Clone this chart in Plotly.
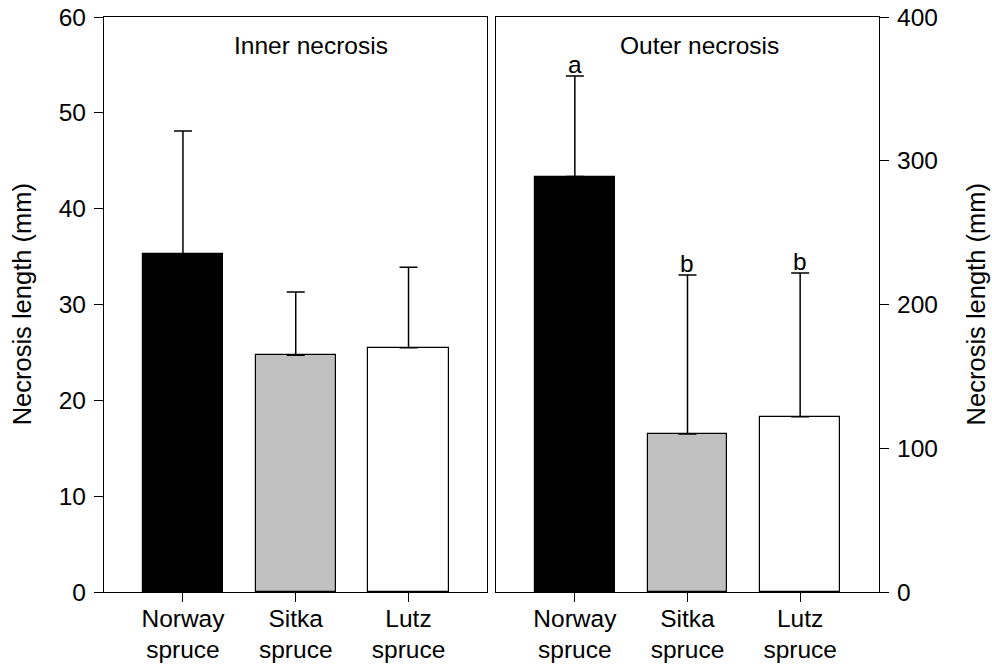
import plotly.graph_objects as go

# Data: mean necrosis length with upper standard deviation
species = ["Norway<br>spruce", "Sitka<br>spruce", "Lutz<br>spruce"]
inner_mean = [35.3, 24.7, 25.5]
inner_sd = [12.8, 6.6, 8.4]
outer_mean = [289.0, 110.0, 122.0]
outer_sd = [70.0, 110.5, 100.0]
outer_letters = ["a", "b", "b"]
bar_colors = ["#000000", "#c0c0c0", "#ffffff"]

FONT = "Liberation Sans, Arial, sans-serif"
FS = 24.5

fig = go.Figure()

fig.add_trace(go.Bar(
    x=species, y=inner_mean, xaxis="x", yaxis="y",
    marker=dict(color=bar_colors, line=dict(color="black", width=1.2)),
    width=0.71,
    error_y=dict(type="data", symmetric=False, array=inner_sd,
                 arrayminus=[0, 0, 0], color="black", thickness=1.5, width=9),
    showlegend=False,
))
fig.add_trace(go.Bar(
    x=species, y=outer_mean, xaxis="x2", yaxis="y2",
    marker=dict(color=bar_colors, line=dict(color="black", width=1.2)),
    width=0.71,
    error_y=dict(type="data", symmetric=False, array=outer_sd,
                 arrayminus=[0, 0, 0], color="black", thickness=1.5, width=9),
    showlegend=False,
))

axis_common = dict(
    showline=True, linecolor="black", linewidth=1.3, mirror=True,
    ticks="outside", ticklen=9, tickwidth=1.3, tickcolor="black",
    showgrid=False, zeroline=False, automargin=False,
    tickfont=dict(family=FONT, size=FS, color="black"),
)

fig.update_layout(
    width=992, height=664,
    margin=dict(l=104, r=113, t=17, b=72),
    paper_bgcolor="white", plot_bgcolor="white",
    font=dict(family=FONT, size=FS, color="black"),
    bargap=0,
    xaxis=dict(domain=[0, 0.4948], range=[-0.7, 2.7], anchor="y",
               ticklabelstandoff=-5, **axis_common),
    yaxis=dict(domain=[0, 1], range=[0, 60], dtick=10, anchor="x",
               ticklabelstandoff=3, **axis_common),
    xaxis2=dict(domain=[0.5058, 1], range=[-0.7, 2.7], anchor="y2",
                ticklabelstandoff=-5, **axis_common),
    yaxis2=dict(domain=[0, 1], range=[0, 400], dtick=100, anchor="x2",
                side="right", ticklabelstandoff=3, **axis_common),
)

annotations = [
    dict(text="Inner necrosis", xref="x domain", yref="y domain",
         x=0.54, y=0.95, showarrow=False, xanchor="center", yanchor="middle",
         font=dict(family=FONT, size=FS)),
    dict(text="Outer necrosis", xref="x2 domain", yref="y2 domain",
         x=0.532, y=0.95, showarrow=False, xanchor="center", yanchor="middle",
         font=dict(family=FONT, size=FS)),
    dict(text="Necrosis length (mm)", xref="paper", yref="paper",
         x=-0.106, y=0.5, textangle=-90, showarrow=False,
         xanchor="center", yanchor="middle", font=dict(family=FONT, size=25.5)),
    dict(text="Necrosis length (mm)", xref="paper", yref="paper",
         x=1.125, y=0.5, textangle=-90, showarrow=False,
         xanchor="center", yanchor="middle", font=dict(family=FONT, size=25.5)),
]
for sp, m, s, lab in zip(species, outer_mean, outer_sd, outer_letters):
    annotations.append(dict(
        text=lab, x=sp, y=m + s, xref="x2", yref="y2", showarrow=False,
        xanchor="center", yanchor="bottom", yshift=-4,
        font=dict(family=FONT, size=FS)))

fig.update_layout(annotations=annotations)

fig.write_html("out.html")
